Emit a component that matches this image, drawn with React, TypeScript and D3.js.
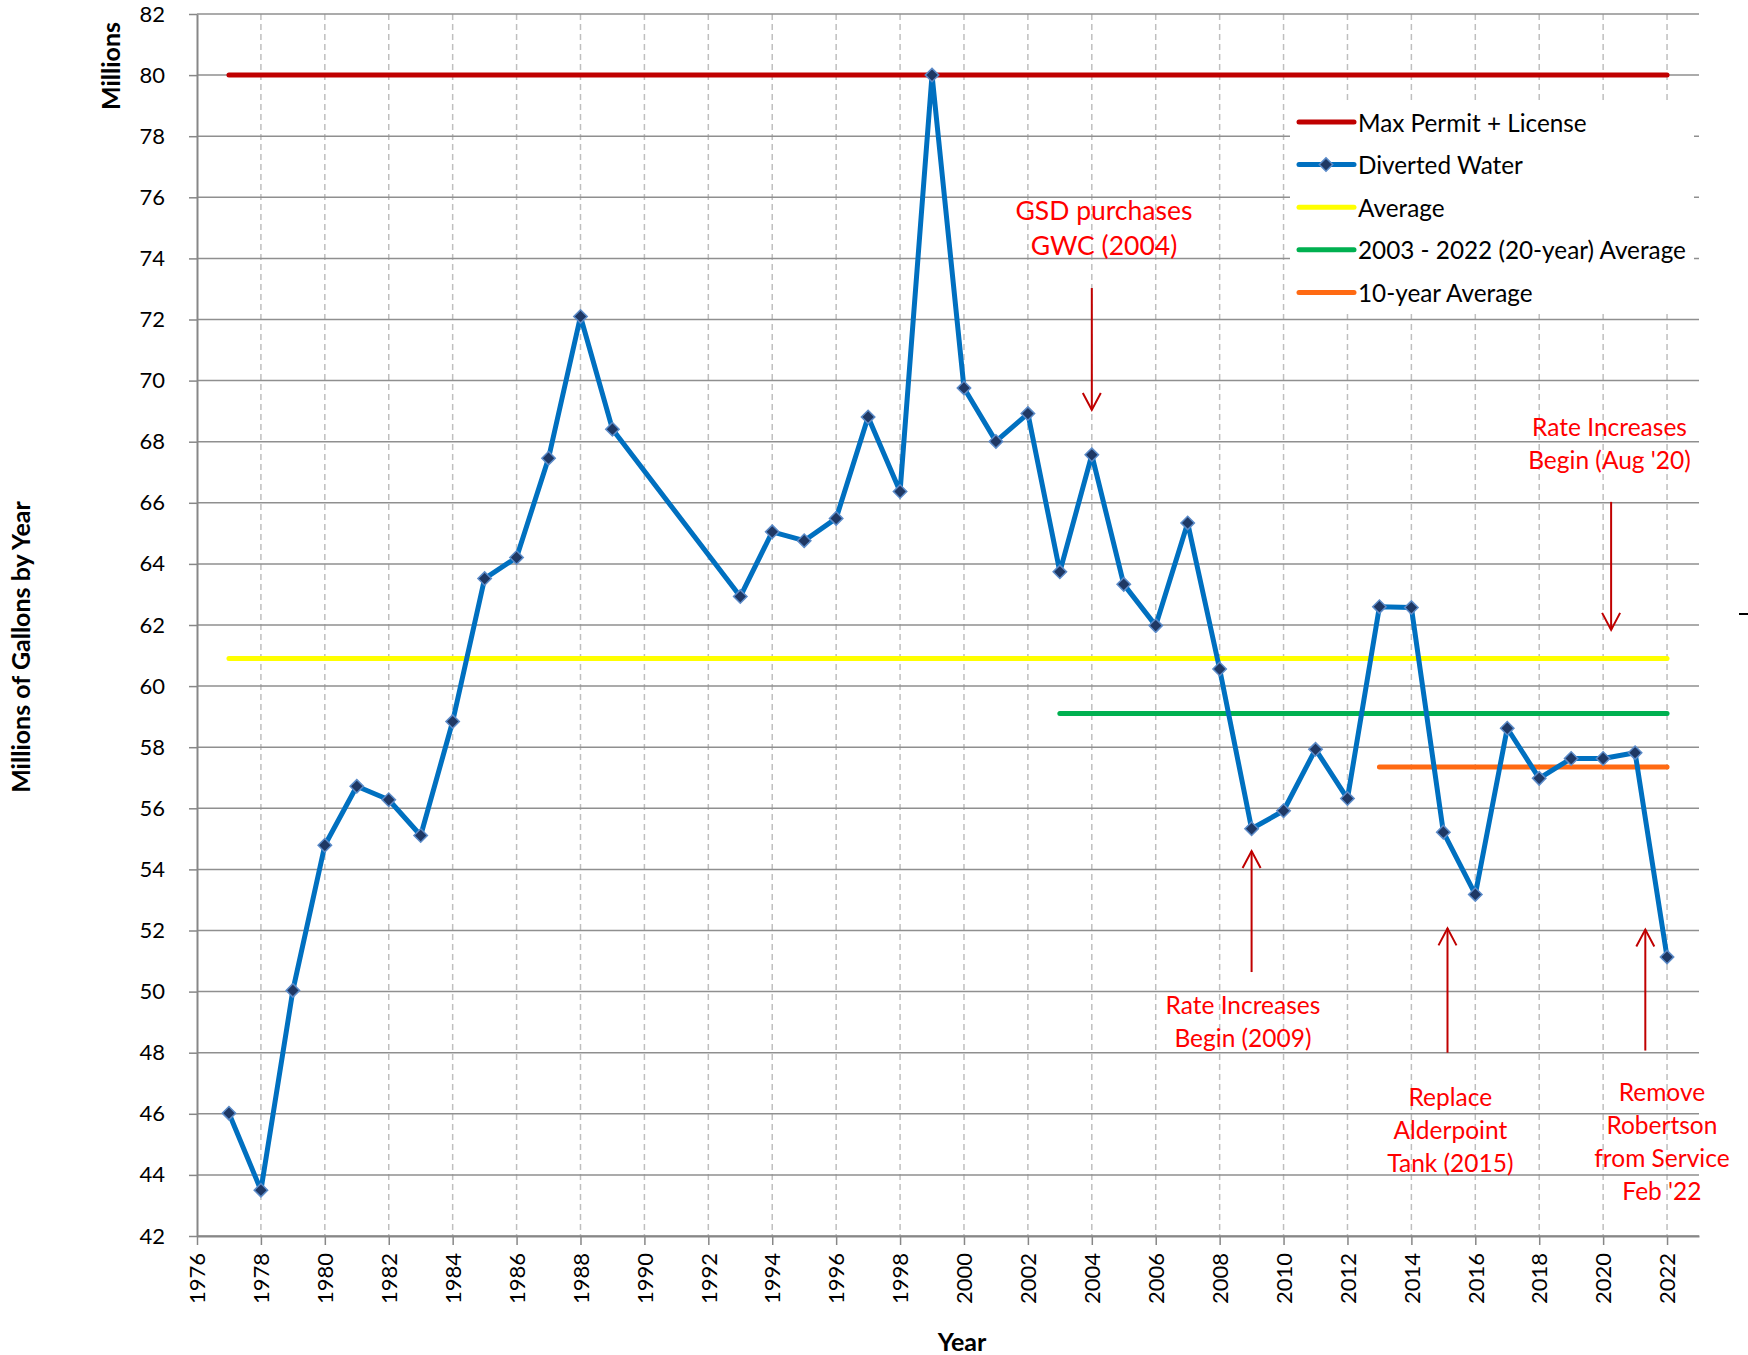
import { useEffect, useRef } from "react";
import * as d3 from "d3";

// Diverted water, millions of gallons per year
const years = [1977, 1978, 1979, 1980, 1981, 1982, 1983, 1984, 1985, 1986, 1987, 1988, 1989,
    1993, 1994, 1995, 1996, 1997, 1998, 1999, 2000, 2001, 2002,
    2003, 2004, 2005, 2006, 2007, 2008, 2009, 2010, 2011, 2012,
    2013, 2014, 2015, 2016, 2017, 2018, 2019, 2020, 2021, 2022];
const divertedWater = [46.02, 43.5, 50.04, 54.79, 56.72, 56.28, 55.11, 58.84, 63.52, 64.21, 67.46, 72.1, 68.41,
    62.93, 65.05, 64.76, 65.49, 68.81, 66.37, 80.0, 69.76, 68.01, 68.92,
    63.74, 67.57, 63.33, 61.98, 65.34, 60.56, 55.33, 55.92, 57.93, 56.32,
    62.6, 62.57, 55.22, 53.18, 58.62, 56.98, 57.63, 57.63, 57.82, 51.13];

// flat reference lines: max permit, average, 20-year average, 10-year average
const refValues = [80, 60.9, 59.1, 57.35];
const refStart = [1977, 1977, 2003, 2013];
const refEnd = [2022, 2022, 2022, 2022];
const refColors = ["#C00000", "#FFFF00", "#00B050", "#FF6A13"];

const legendNames = ["Max Permit + License", "Diverted Water", "Average", "2003 - 2022 (20-year) Average", "10-year Average"];
const legendColors = ["#C00000", "#0070C0", "#FFFF00", "#00B050", "#FF6A13"];

const yTicks = d3.range(42, 83, 2);
const xTicks = d3.range(1976, 2023, 2);

// annotations (position of first text line, arrow tail -> head)
const noteText = [
    ["GSD purchases", "GWC (2004)"],
    ["Rate Increases", "Begin (Aug '20)"],
    ["Rate Increases", "Begin (2009)"],
    ["Replace", "Alderpoint", "Tank (2015)"],
    ["Remove", "Robertson", "from Service", "Feb '22"],
];
const noteYear = [2004.38, 2020.2, 2008.73, 2015.22, 2021.84];
const noteValue = [75.6, 68.49, 49.57, 46.57, 46.73];
const arrowYear = [2004, 2020.25, 2009, 2015.13, 2021.32];
const arrowTail = [73.03, 66.03, 50.64, 48.0, 48.07];
const arrowHead = [69.04, 61.84, 54.6, 52.07, 52.03];

const FONT = "Lato, 'Open Sans', sans-serif";

export default function App() {
    const svgRef = useRef(null);

    useEffect(() => {
        const svg = d3.select(svgRef.current);
        svg.selectAll("*").remove();

        const x = d3.scaleLinear().domain([1976, 2023]).range([197, 1699]);
        const y = d3.scaleLinear().domain([42, 82]).range([1236, 14]);

        // vertical dashed grid
        svg.append("g").selectAll("line")
            .data(xTicks.slice(1))
            .join("line")
            .attr("x1", d => x(d)).attr("x2", d => x(d))
            .attr("y1", y(82)).attr("y2", y(42))
            .attr("stroke", "#bfbfbf").attr("stroke-width", 1.5)
            .attr("stroke-dasharray", "6,4");

        // horizontal grid
        svg.append("g").selectAll("line")
            .data(yTicks)
            .join("line")
            .attr("x1", x(1976)).attr("x2", x(2023))
            .attr("y1", d => y(d)).attr("y2", d => y(d))
            .attr("stroke", "#8f8f8f").attr("stroke-width", 1.5);

        // y axis
        const yAxis = svg.append("g")
            .attr("transform", `translate(${x(1976)},0)`)
            .call(d3.axisLeft(y).tickValues(yTicks).tickSize(8).tickSizeOuter(0).tickPadding(24).tickFormat(d3.format("d")));
        yAxis.select(".domain").attr("stroke", "#878787").attr("stroke-width", 2);
        yAxis.selectAll(".tick line").attr("stroke", "#878787").attr("stroke-width", 1.5);
        yAxis.selectAll("text").attr("font-family", FONT).attr("font-size", 22).attr("fill", "#000");

        // x axis
        const xAxis = svg.append("g")
            .attr("transform", `translate(0,${y(42)})`)
            .call(d3.axisBottom(x).tickValues(xTicks).tickSize(9).tickSizeOuter(0).tickFormat(d3.format("d")));
        xAxis.select(".domain").attr("stroke", "#878787").attr("stroke-width", 2);
        xAxis.selectAll(".tick line").attr("stroke", "#878787").attr("stroke-width", 1.5);
        xAxis.selectAll("text")
            .attr("font-family", FONT).attr("font-size", 22).attr("fill", "#000")
            .attr("transform", "rotate(-90)")
            .attr("text-anchor", "end")
            .attr("x", -17).attr("y", 0).attr("dy", "0.35em");

        // reference lines
        refValues.forEach((v, i) => {
            svg.append("line")
                .attr("x1", x(refStart[i])).attr("x2", x(refEnd[i]))
                .attr("y1", y(v)).attr("y2", y(v))
                .attr("stroke", refColors[i]).attr("stroke-width", 5)
                .attr("stroke-linecap", "round");
        });

        // diverted water
        const line = d3.line<number>()
            .x((d, i) => x(years[i]))
            .y(d => y(d));
        svg.append("path")
            .datum(divertedWater)
            .attr("fill", "none")
            .attr("stroke", "#0070C0").attr("stroke-width", 5)
            .attr("stroke-linejoin", "round")
            .attr("d", line);

        const diamond = d3.symbol().type(d3.symbolSquare).size(90);
        svg.append("g").selectAll("path")
            .data(divertedWater)
            .join("path")
            .attr("d", diamond)
            .attr("transform", (d, i) => `translate(${x(years[i])},${y(d)}) rotate(45)`)
            .attr("fill", "#1F3864").attr("stroke", "#5B8BC9").attr("stroke-width", 1.5);

        // annotations
        noteText.forEach((lines, i) => {
            const big = i === 0;
            const t = svg.append("text")
                .attr("font-family", FONT)
                .attr("font-size", big ? 26.5 : 24.5)
                .attr("fill", "#FF0000")
                .attr("text-anchor", "middle");
            lines.forEach((s, j) => {
                t.append("tspan")
                    .attr("x", x(noteYear[i]))
                    .attr("y", y(noteValue[i]) + j * (big ? 35 : 33))
                    .attr("dominant-baseline", "central")
                    .text(s);
            });

            const ax = x(arrowYear[i]);
            const y0 = y(arrowTail[i]);
            const y1 = y(arrowHead[i]);
            const dir = y1 > y0 ? -1 : 1;
            const g = svg.append("g").attr("stroke", "#C00000").attr("stroke-width", 2).attr("fill", "none");
            g.append("line").attr("x1", ax).attr("x2", ax).attr("y1", y0).attr("y2", y1);
            g.append("path").attr("d", `M${ax - 9},${y1 + dir * 17}L${ax},${y1}L${ax + 9},${y1 + dir * 17}`);
        });

        // legend
        const legend = svg.append("g");
        legend.append("rect")
            .attr("x", 1290).attr("y", 100).attr("width", 404).attr("height", 214)
            .attr("fill", "#fff");
        legendNames.forEach((name, i) => {
            const ly = 122 + i * 42.6;
            legend.append("line")
                .attr("x1", 1299).attr("x2", 1354).attr("y1", ly).attr("y2", ly)
                .attr("stroke", legendColors[i]).attr("stroke-width", 5)
                .attr("stroke-linecap", "round");
            if (name === "Diverted Water") {
                legend.append("path")
                    .attr("d", diamond)
                    .attr("transform", `translate(1326,${ly}) rotate(45)`)
                    .attr("fill", "#1F3864").attr("stroke", "#5B8BC9").attr("stroke-width", 1.5);
            }
            legend.append("text")
                .attr("x", 1358).attr("y", ly)
                .attr("dominant-baseline", "central")
                .attr("font-family", FONT).attr("font-size", 24.3)
                .text(name);
        });

        // axis titles
        svg.append("text")
            .attr("transform", "translate(110,66) rotate(-90)")
            .attr("text-anchor", "middle").attr("dominant-baseline", "central")
            .attr("font-family", FONT).attr("font-weight", "bold").attr("font-size", 25)
            .text("Millions");
        svg.append("text")
            .attr("transform", "translate(20,647) rotate(-90)")
            .attr("text-anchor", "middle").attr("dominant-baseline", "central")
            .attr("font-family", FONT).attr("font-weight", "bold").attr("font-size", 25)
            .text("Millions of Gallons by Year");
        svg.append("text")
            .attr("x", 962).attr("y", 1341)
            .attr("text-anchor", "middle").attr("dominant-baseline", "central")
            .attr("font-family", FONT).attr("font-weight", "bold").attr("font-size", 25)
            .text("Year");

        // clipped mark at the right edge
        svg.append("line")
            .attr("x1", 1739).attr("x2", 1748).attr("y1", 614).attr("y2", 614)
            .attr("stroke", "#000").attr("stroke-width", 2);
    }, []);

    return (
        <svg ref={svgRef} width={1748} height={1355}
             style={{position: "absolute", left: 0, top: 0, background: "#fff"}}></svg>
    );
}
